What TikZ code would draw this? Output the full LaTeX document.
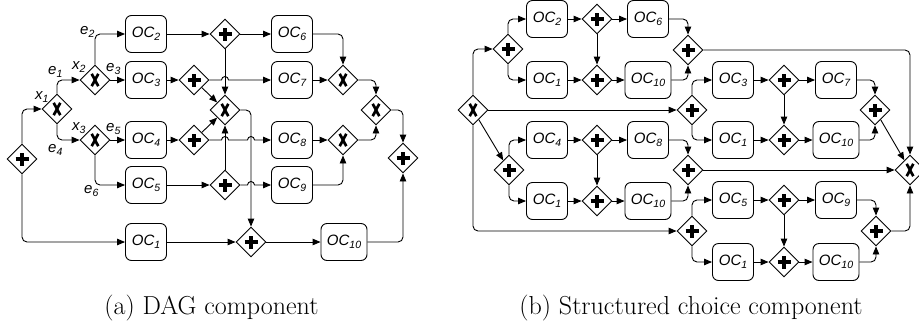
\documentclass[tikz,border=0pt]{standalone}
\usepackage{fontspec}
\newfontfamily\ocfont{Liberation Sans}
\usetikzlibrary{shapes.geometric,arrows.meta}
\newcommand{\ocf}{\fontsize{15}{18}\selectfont\ocfont\itshape}
\newcommand{\sbs}[1]{\raisebox{-3.5pt}{\fontsize{10.5}{11}\selectfont #1}}
\tikzset{
  conn/.style={line width=0.9pt, -{Triangle[length=8pt,width=6.5pt]}, rounded corners=5pt},
  ocbox/.style={draw, line width=0.9pt, rounded corners=6pt, minimum width=41pt, minimum height=37pt, inner sep=0pt, font=\ocf},
  ocwide/.style={ocbox, minimum width=46pt},
  gate/.style={draw, line width=0.9pt, diamond, minimum width=30pt, minimum height=30pt, inner sep=0pt},
  andg/.style={gate, path picture={\draw[line width=3.8pt]
      (path picture bounding box.center) ++(-6.5,0) -- ++(13,0)
      (path picture bounding box.center) ++(0,-6.5) -- ++(0,13);}},
  xorg/.style={gate, path picture={\draw[line width=2.7pt]
      (path picture bounding box.center) ++(-3.3,6.2) -- ++(6.6,-12.4)
      (path picture bounding box.center) ++(3.3,6.2) -- ++(-6.6,-12.4);}},
  lbl/.style={anchor=base west, inner sep=0pt, font=\ocf},
  captxt/.style={anchor=base, inner sep=0pt, font=\fontsize{26}{30}\selectfont},
}
\begin{document}
\begin{tikzpicture}[x=1pt,y=1pt]
\useasboundingbox (0,0) rectangle (919,-333);
% ---------------- (a) ----------------
\node[andg] (S) at (22,-159) {};
\node[xorg] (X1) at (57,-109) {};
\node[xorg] (X2) at (95,-80) {};
\node[xorg] (X3) at (95,-140) {};
\node[ocbox] (a2) at (146,-34) {OC\sbs{2}};
\node[ocbox] (a3) at (146,-80) {OC\sbs{3}};
\node[ocbox] (a4) at (146,-140) {OC\sbs{4}};
\node[ocbox] (a5) at (146,-185) {OC\sbs{5}};
\node[ocbox] (a1) at (146,-242) {OC\sbs{1}};
\node[andg] (P2) at (225,-34) {};
\node[andg] (P3) at (194,-80) {};
\node[xorg] (Xc) at (225,-110) {};
\node[andg] (P4) at (194,-140) {};
\node[andg] (P5) at (225,-185) {};
\node[ocbox] (a6) at (292,-34) {OC\sbs{6}};
\node[ocbox] (a7) at (292,-80) {OC\sbs{7}};
\node[ocbox] (a8) at (292,-140) {OC\sbs{8}};
\node[ocbox] (a9) at (292,-185) {OC\sbs{9}};
\node[xorg] (Xr1) at (343,-80) {};
\node[xorg] (Xr2) at (343,-140) {};
\node[xorg] (Xr3) at (376,-110) {};
\node[andg] (Pf) at (403,-158) {};
\node[andg] (Pb) at (251,-242) {};
\node[ocwide] (a10) at (344,-242) {OC\sbs{10}};
% labels
\node[lbl] (lx1) at (35,-99) {x\sbs{1}};
\node[lbl] (le1) at (48,-74) {e\sbs{1}};
\node[lbl] (lx2) at (72,-69) {x\sbs{2}};
\node[lbl] (le2) at (80,-34) {e\sbs{2}};
\node[lbl] (le3) at (106,-71) {e\sbs{3}};
\node[lbl] (lx3) at (72,-130) {x\sbs{3}};
\node[lbl] (le5) at (106,-131) {e\sbs{5}};
\node[lbl] (le4) at (48,-152) {e\sbs{4}};
\node[lbl] (le6) at (84,-193) {e\sbs{6}};
% connectors
\draw[conn] (S.north) |- (X1.west);
\draw[conn] (S.south) |- (a1.west);
\draw[conn] (X1.north) |- (X2.west);
\draw[conn] (X1.south) |- (X3.west);
\draw[conn] (X2.north) |- (a2.west);
\draw[conn] (X2.east) -- (a3.west);
\draw[conn] (X3.east) -- (a4.west);
\draw[conn] (X3.south) |- (a5.west);
\draw[conn] (a2.east) -- (P2.west);
\draw[conn] (P2.east) -- (a6.west);
\draw[conn] (P2.south) -- (Xc.north);
\draw[conn] (a3.east) -- (P3.west);
\draw[conn, sharp corners] (P3.east) -- (221.5,-80) arc[start angle=180,end angle=0,radius=3.5] -- (a7.west);
\draw[conn] (P3) -- (Xc);
\draw[conn] (a4.east) -- (P4.west);
\draw[conn, sharp corners] (P4.east) -- (221.5,-140) arc[start angle=180,end angle=0,radius=3.5] -- (247.5,-140) arc[start angle=180,end angle=0,radius=3.5] -- (a8.west);
\draw[conn] (P4) -- (Xc);
\draw[conn] (a5.east) -- (P5.west);
\draw[conn] (P5.north) -- (Xc.south);
\draw[conn, sharp corners] (P5.east) -- (247.5,-185) arc[start angle=180,end angle=0,radius=3.5] -- (a9.west);
\draw[conn] (Xc.east) -| (Pb.north);
\draw[conn] (a1.east) -- (Pb.west);
\draw[conn] (Pb.east) -- (a10.west);
\draw[conn] (a6.east) -| (Xr1.north);
\draw[conn] (a7.east) -- (Xr1.west);
\draw[conn] (a8.east) -- (Xr2.west);
\draw[conn] (a9.east) -| (Xr2.south);
\draw[conn] (Xr1.east) -| (Xr3.north);
\draw[conn] (Xr2.east) -| (Xr3.south);
\draw[conn] (Xr3.east) -| (Pf.north);
\draw[conn] (a10.east) -| (Pf.south);
% ---------------- (b) ----------------
\node[xorg] (Xm) at (473,-110) {};
\node[andg] (PA) at (508,-49) {};
\node[andg] (PB) at (509,-170) {};
\node[ocbox] (b2) at (547,-19) {OC\sbs{2}};
\node[andg] (Q1) at (597,-19) {};
\node[ocbox] (b6) at (648,-19) {OC\sbs{6}};
\node[ocbox] (b1a) at (547,-80) {OC\sbs{1}};
\node[andg] (Q2) at (597,-80) {};
\node[ocwide] (b10a) at (648,-80) {OC\sbs{10}};
\node[andg] (MA) at (688,-50) {};
\node[ocbox] (b4) at (547,-140) {OC\sbs{4}};
\node[andg] (Q3) at (597,-140) {};
\node[ocbox] (b8) at (648,-140) {OC\sbs{8}};
\node[ocbox] (b1b) at (547,-201) {OC\sbs{1}};
\node[andg] (Q4) at (597,-201) {};
\node[ocwide] (b10b) at (648,-201) {OC\sbs{10}};
\node[andg] (MB) at (688,-170) {};
\node[andg] (PC) at (692,-110) {};
\node[ocbox] (b3) at (733,-80) {OC\sbs{3}};
\node[andg] (Q5) at (784,-80) {};
\node[ocbox] (b7) at (836,-80) {OC\sbs{7}};
\node[ocbox] (b1c) at (733,-140) {OC\sbs{1}};
\node[andg] (Q6) at (784,-140) {};
\node[ocwide] (b10c) at (836,-140) {OC\sbs{10}};
\node[andg] (MC) at (875,-110) {};
\node[andg] (PD) at (692,-231) {};
\node[ocbox] (b5) at (733,-200) {OC\sbs{5}};
\node[andg] (Q7) at (784,-200) {};
\node[ocbox] (b9) at (836,-200) {OC\sbs{9}};
\node[ocbox] (b1d) at (733,-262) {OC\sbs{1}};
\node[andg] (Q8) at (784,-262) {};
\node[ocwide] (b10d) at (836,-262) {OC\sbs{10}};
\node[andg] (MD) at (876,-231) {};
\node[xorg] (XF) at (910,-170) {};
% connectors
\draw[conn] (Xm.north) |- (PA.west);
\draw[conn] (Xm.east) -- (PC.west);
\draw[conn] (Xm) -- (PB);
\draw[conn] (Xm.south) |- (PD.west);
\draw[conn] (PA.north) |- (b2.west);
\draw[conn] (PA.south) |- (b1a.west);
\draw[conn] (b2.east) -- (Q1.west);
\draw[conn] (Q1.east) -- (b6.west);
\draw[conn] (Q1.south) -- (Q2.north);
\draw[conn] (b1a.east) -- (Q2.west);
\draw[conn] (Q2.east) -- (b10a.west);
\draw[conn] (b6.east) -| (MA.north);
\draw[conn] (b10a.east) -| (MA.south);
\draw[conn] (MA.east) -| (XF.north);
\draw[conn] (PB.north) |- (b4.west);
\draw[conn] (PB.south) |- (b1b.west);
\draw[conn] (b4.east) -- (Q3.west);
\draw[conn] (Q3.east) -- (b8.west);
\draw[conn] (Q3.south) -- (Q4.north);
\draw[conn] (b1b.east) -- (Q4.west);
\draw[conn] (Q4.east) -- (b10b.west);
\draw[conn] (b8.east) -| (MB.north);
\draw[conn] (b10b.east) -| (MB.south);
\draw[conn] (MB.east) -- (XF.west);
\draw[conn] (PC.north) |- (b3.west);
\draw[conn] (PC.south) |- (b1c.west);
\draw[conn] (b3.east) -- (Q5.west);
\draw[conn] (Q5.east) -- (b7.west);
\draw[conn] (Q5.south) -- (Q6.north);
\draw[conn] (b1c.east) -- (Q6.west);
\draw[conn] (Q6.east) -- (b10c.west);
\draw[conn] (b7.east) -| (MC.north);
\draw[conn] (b10c.east) -| (MC.south);
\draw[conn] (MC) -- (XF);
\draw[conn] (PD.north) |- (b5.west);
\draw[conn] (PD.south) |- (b1d.west);
\draw[conn] (b5.east) -- (Q7.west);
\draw[conn] (Q7.east) -- (b9.west);
\draw[conn] (Q7.south) -- (Q8.north);
\draw[conn] (b1d.east) -- (Q8.west);
\draw[conn] (Q8.east) -- (b10d.west);
\draw[conn] (b9.east) -| (MD.north);
\draw[conn] (b10d.east) -| (MD.south);
\draw[conn] (MD.east) -| (XF.south);
% captions
\node[captxt] (capa) at (211.5,-314) {(a) DAG component};
\node[captxt] (capb) at (691,-314) {(b) Structured choice component};
\end{tikzpicture}
\end{document}
